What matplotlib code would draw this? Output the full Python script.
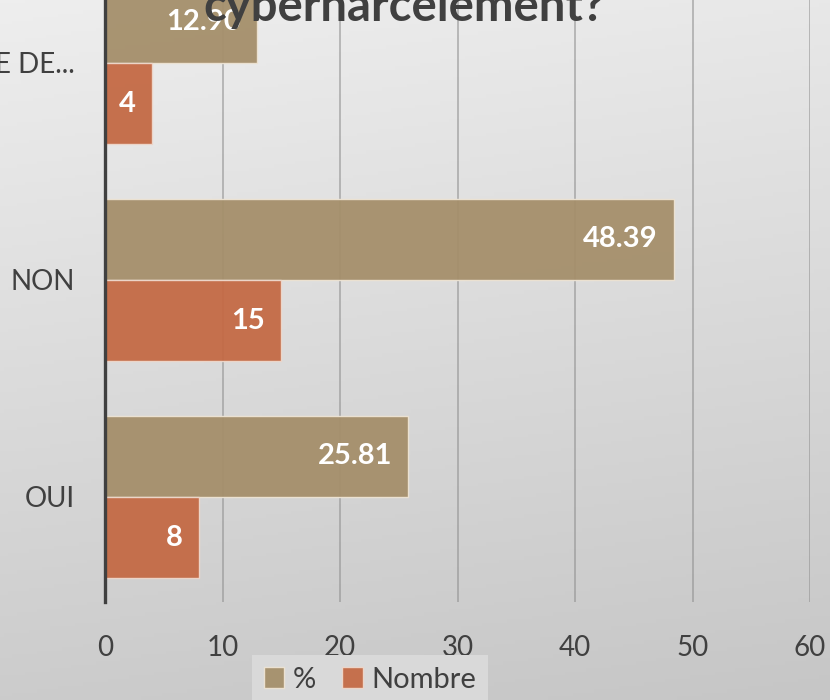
import numpy as np
import matplotlib.pyplot as plt
from matplotlib.colors import LinearSegmentedColormap

categories = ['OUI', 'NON', 'E DE...']
pct = [25.81, 48.39, 12.90]
nombre = [8, 15, 4]
pct_labels = ['25.81', '48.39', '12.90']
nombre_labels = ['8', '15', '4']
xticks = [0, 10, 20, 30, 40, 50, 60]

plt.rcParams['font.family'] = ['Lato', 'DejaVu Sans']
txt = '#404040'

fig = plt.figure(figsize=(8.3, 7), dpi=100)

# light grey gradient background
bg = fig.add_axes([0, 0, 1, 1], zorder=-1)
yy, xx = np.mgrid[0:1:200j, 0:1:200j]
bg.imshow(0.85 * yy + 0.15 * xx, aspect='auto', extent=[0, 1, 0, 1],
          cmap=LinearSegmentedColormap.from_list('bg', ['#eeeeee', '#c6c6c6']))
bg.axis('off')

ax = fig.add_axes([105/830, 1 - 602/700, 705/830, 602/700])
ax.patch.set_alpha(0)

y = np.arange(len(categories))
h = 0.375
b1 = ax.barh(y + h/2, pct, h, color='#A58F6B', alpha=0.95,
             edgecolor='#eee4d4', lw=1, label='%', zorder=2)
b2 = ax.barh(y - h/2, nombre, h, color='#C46A45', alpha=0.95,
             edgecolor='#eed8cc', lw=1, label='Nombre', zorder=2)

for bars, labels in ((b1, pct_labels), (b2, nombre_labels)):
    for bar, lab in zip(bars, labels):
        ax.annotate(lab, xy=(bar.get_width(), bar.get_y() + bar.get_height()/2),
                    xytext=(-16, 0), textcoords='offset pixels',
                    ha='right', va='center', color='white',
                    fontsize=21, fontweight='bold', zorder=3)

ax.set_xlim(0, 60)
ax.set_ylim(-0.484, 2.29)
ax.set_xticks(xticks)
ax.set_yticks(y)
ax.set_yticklabels(categories)
ax.tick_params(length=0, labelsize=20, colors=txt)
ax.tick_params(axis='x', pad=24)
ax.tick_params(axis='y', pad=22)
ax.xaxis.grid(True, color='#8f8f8f', lw=1.3, alpha=0.6, zorder=1)
ax.set_axisbelow(True)
for s in ['top', 'right', 'bottom']:
    ax.spines[s].set_visible(False)
ax.spines['left'].set_color(txt)
ax.spines['left'].set_linewidth(2.4)
ax.spines['left'].set_zorder(4)

fig.text(404/830, 1 - 21/700, 'cyberharcèlement?', ha='center', va='baseline',
         fontsize=34, fontweight='bold', color=txt, zorder=5)

leg = fig.legend(handles=[b1, b2], loc='upper left', bbox_to_anchor=(252/830, 1 - 655/700),
                 ncol=2, frameon=True, facecolor='#d9d9d9', edgecolor='none',
                 fancybox=False, framealpha=1, fontsize=21, labelcolor=txt,
                 handlelength=0.7, handleheight=0.7, handletextpad=0.3,
                 columnspacing=0.9, borderpad=0.4, borderaxespad=0)

fig.savefig('out.png', dpi=100)
